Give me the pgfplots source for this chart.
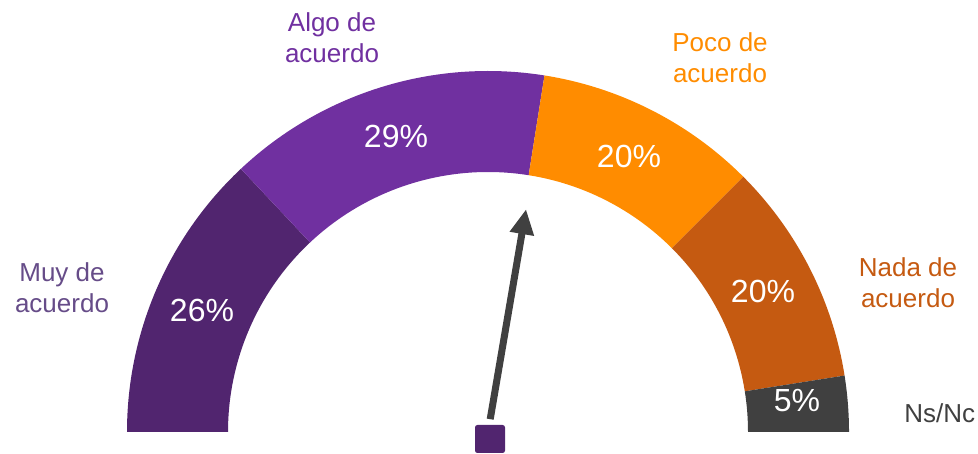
\documentclass[border=0pt]{standalone}
\usepackage{fontspec}
\setmainfont{Liberation Sans}
\usepackage{pgfplots}
\pgfplotsset{compat=1.18}
\usepackage{pgfplotstable}
\usetikzlibrary{arrows.meta}

\definecolor{cMuy}{HTML}{51256F}
\definecolor{cAlgo}{HTML}{7030A0}
\definecolor{cPoco}{HTML}{FF8C00}
\definecolor{cNada}{HTML}{C55A11}
\definecolor{cNs}{HTML}{404040}
\definecolor{tMuy}{HTML}{664C88}

% gauge shares (percent)
\pgfplotstableread{
label value
Muy  26
Algo 29
Poco 20
Nada 20
NsNc 5
}\gauge

% centre (px), radii (px) -- 1 axis unit = 1 px = 0.5pt
\def\cx{488}\def\cy{22}
\def\ro{361}\def\ri{260}

\newcommand{\seg}[3]{%
  \fill[#1] (axis cs:{\cx+\ri*cos(#2)},{\cy+\ri*sin(#2)})
    -- (axis cs:{\cx+\ro*cos(#2)},{\cy+\ro*sin(#2)})
    arc[start angle=#2, end angle=#3, radius=180.5pt]
    -- (axis cs:{\cx+\ri*cos(#3)},{\cy+\ri*sin(#3)})
    arc[start angle=#3, end angle=#2, radius=130pt] -- cycle;}

\begin{document}
\begin{tikzpicture}
\pgfplotstablegetelem{0}{value}\of\gauge\pgfmathsetmacro\vA{\pgfplotsretval}
\pgfplotstablegetelem{1}{value}\of\gauge\pgfmathsetmacro\vB{\pgfplotsretval}
\pgfplotstablegetelem{2}{value}\of\gauge\pgfmathsetmacro\vC{\pgfplotsretval}
\pgfplotstablegetelem{3}{value}\of\gauge\pgfmathsetmacro\vD{\pgfplotsretval}
\pgfmathsetmacro\aA{180}
\pgfmathsetmacro\aB{\aA-1.8*\vA}
\pgfmathsetmacro\aC{\aB-1.8*\vB}
\pgfmathsetmacro\aD{\aC-1.8*\vC}
\pgfmathsetmacro\aE{\aD-1.8*\vD}
\pgfmathsetmacro\aF{0}
\def\needle{80.3}
\begin{axis}[
    x=0.5pt, y=0.5pt,
    xmin=0, xmax=978, ymin=0, ymax=454,
    hide axis, clip=false,
]
\path (axis cs:0,0) rectangle (axis cs:978,454);
\seg{cMuy}{\aA}{\aB}
\seg{cAlgo}{\aB}{\aC}
\seg{cPoco}{\aC}{\aD}
\seg{cNada}{\aD}{\aE}
\seg{cNs}{\aE}{\aF}

% needle
\draw[cNs, line width=3.5pt, -{Triangle[width=11.5pt,length=12.5pt]}]
  (axis cs:{\cx+13*cos(\needle)},{\cy+13*sin(\needle)})
  -- (axis cs:{\cx+226*cos(\needle)},{\cy+226*sin(\needle)});
\fill[cMuy, rounded corners=1.2pt] (axis cs:475,1) rectangle (axis cs:505,29);

% percentages
\begin{scope}[every node/.style={anchor=base, text=white, font=\fontsize{16}{19}\selectfont, inner sep=0pt}]
\node at (axis cs:202,132) {26\%};
\node at (axis cs:396,306) {29\%};
\node at (axis cs:629,286) {20\%};
\node at (axis cs:763,151) {20\%};
\node at (axis cs:797,42) {5\%};
\end{scope}

% category labels
\begin{scope}[every node/.style={anchor=base, font=\fontsize{13}{16}\selectfont, inner sep=0pt}]
\node[text=tMuy] at (axis cs:62,172) {Muy de};
\node[text=tMuy] at (axis cs:62,141) {acuerdo};
\node[text=cAlgo] at (axis cs:332,422) {Algo de};
\node[text=cAlgo] at (axis cs:332,391) {acuerdo};
\node[text=cPoco] at (axis cs:720,402) {Poco de};
\node[text=cPoco] at (axis cs:720,371) {acuerdo};
\node[text=cNada] at (axis cs:908,177) {Nada de};
\node[text=cNada] at (axis cs:908,146) {acuerdo};
\node[text=cNs, anchor=base west] at (axis cs:904,31) {Ns/Nc};
\end{scope}
\end{axis}
\end{tikzpicture}
\end{document}
